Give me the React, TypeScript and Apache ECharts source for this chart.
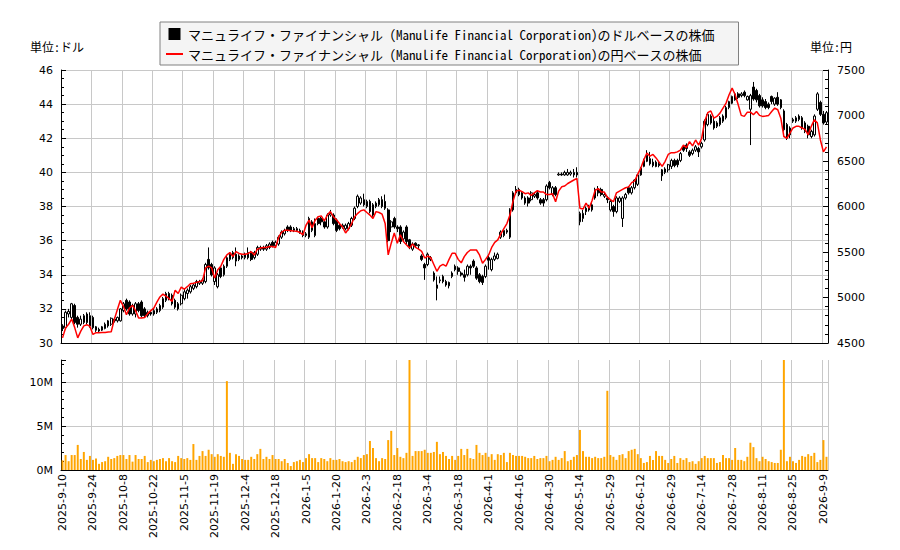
import React, { useEffect, useRef } from 'react';
import * as echarts from 'echarts';

// 取引日 (US market) : 2025-9-10 .. 2026-9-10
const firstDay = '2025-09-10';
const lastDay = '2026-09-10';
const marketHolidays = [
  '2025-11-27', '2025-12-25', '2026-01-01', '2026-01-19', '2026-02-16',
  '2026-04-03', '2026-05-25', '2026-06-19', '2026-07-03', '2026-09-07',
];

const dollarName = 'マニュライフ・ファイナンシャル (Manulife Financial Corporation)のドルベースの株価';
const yenName = 'マニュライフ・ファイナンシャル (Manulife Financial Corporation)の円ベースの株価';

// [open, close, low, high] (USD)
const candles: number[][] = [
  [31.0, 30.85, 30.7, 31.1], [30.9, 31.8, 30.8, 31.9], [31.7, 31.85, 31.5, 32.0], [31.5, 32.3, 31.3, 32.35], [32.2, 31.2, 31.1, 32.3],
  [31.5, 31.1, 30.9, 31.6], [31.1, 31.4, 31.0, 31.6], [31.2, 31.6, 31.1, 31.7], [31.7, 31.2, 31.1, 31.8], [31.6, 31.0, 30.9, 31.8],
  [31.5, 30.9, 30.8, 31.6], [30.95, 30.75, 30.65, 31.0], [30.8, 30.7, 30.6, 30.9], [30.75, 30.95, 30.7, 31.0], [30.85, 31.1, 30.8, 31.2],
  [31.0, 31.3, 30.9, 31.35], [31.1, 31.45, 31.0, 31.5], [31.4, 31.3, 31.2, 31.5], [31.3, 31.5, 31.2, 31.55], [31.3, 32.0, 31.25, 32.05],
  [31.9, 32.3, 31.8, 32.4], [32.5, 32.0, 31.9, 32.6], [32.4, 31.7, 31.6, 32.5], [31.7, 32.2, 31.6, 32.3], [31.7, 32.3, 31.5, 32.4],
  [32.3, 31.9, 31.8, 32.4], [32.4, 31.6, 31.5, 32.5], [32.0, 31.6, 31.5, 32.1], [31.6, 31.8, 31.5, 31.9], [31.8, 31.7, 31.6, 31.9],
  [31.7, 31.9, 31.6, 32.0], [31.8, 32.0, 31.7, 32.1], [31.9, 32.2, 31.8, 32.3], [32.1, 32.6, 32.0, 32.7], [32.5, 32.9, 32.4, 33.0],
  [32.9, 32.6, 32.5, 33.0], [32.8, 32.3, 32.2, 32.9], [32.5, 32.1, 32.0, 32.6], [32.3, 32.0, 31.9, 32.4], [32.3, 32.8, 32.2, 32.9],
  [32.6, 33.0, 32.5, 33.2], [32.9, 33.1, 32.6, 33.2], [33.0, 33.3, 32.9, 33.4], [33.2, 33.4, 33.1, 33.5], [33.3, 33.6, 33.2, 33.7],
  [33.5, 33.6, 33.4, 33.7], [33.5, 33.7, 33.4, 33.8], [33.6, 34.6, 33.5, 34.7], [34.9, 34.4, 34.3, 35.6], [34.6, 34.0, 33.9, 34.7],
  [33.6, 34.4, 33.4, 34.5], [33.3, 34.0, 33.2, 34.1], [34.4, 33.9, 33.8, 34.5], [34.0, 34.5, 33.9, 34.6], [34.5, 35.0, 34.4, 35.1],
  [34.9, 35.2, 34.8, 35.3], [35.0, 35.3, 34.9, 35.4], [35.2, 34.8, 34.5, 35.6], [34.9, 35.1, 34.8, 35.2], [35.1, 35.0, 34.9, 35.2],
  [35.0, 35.2, 34.9, 35.3], [35.3, 35.0, 34.9, 35.6], [35.3, 34.9, 34.8, 35.4], [35.0, 35.3, 34.9, 35.4], [35.2, 35.6, 35.1, 35.7],
  [35.5, 35.6, 35.4, 35.7], [35.6, 35.5, 35.4, 35.7], [35.5, 35.7, 35.4, 35.8], [35.6, 35.8, 35.5, 35.9], [35.9, 35.7, 35.6, 36.0],
  [35.7, 35.9, 35.6, 36.0], [35.8, 36.2, 35.7, 36.3], [36.2, 36.5, 36.1, 36.6], [36.4, 36.6, 36.3, 36.7], [36.8, 36.6, 36.5, 36.9],
  [36.8, 36.6, 36.5, 36.9], [36.6, 36.7, 36.5, 36.8], [36.7, 36.6, 36.5, 36.8], [36.6, 36.5, 36.4, 36.7], [36.5, 36.3, 36.2, 36.6],
  [36.3, 36.4, 36.2, 36.5], [36.2, 37.3, 36.1, 37.4], [36.6, 37.1, 36.5, 37.2], [36.3, 37.0, 36.2, 37.3], [37.3, 37.0, 36.9, 37.4],
  [37.3, 37.1, 36.9, 37.4], [37.1, 36.8, 36.7, 37.2], [36.8, 37.5, 36.7, 37.6], [37.5, 37.6, 37.4, 37.8], [37.5, 37.0, 36.9, 37.6],
  [37.2, 36.6, 36.5, 37.3], [36.9, 36.7, 36.6, 37.0], [36.8, 36.9, 36.7, 37.0], [36.7, 36.9, 36.6, 37.0], [36.7, 37.0, 36.6, 37.1],
  [36.9, 37.3, 36.8, 37.4], [37.3, 37.9, 37.2, 38.0], [38.0, 38.6, 37.9, 38.7], [38.2, 38.5, 38.1, 38.6], [38.4, 38.1, 38.0, 38.75],
  [38.0, 38.3, 37.9, 38.4], [38.3, 37.7, 37.6, 38.4], [38.1, 37.5, 37.4, 38.2], [38.0, 38.2, 37.9, 38.3], [38.1, 38.4, 38.0, 38.5],
  [38.4, 38.0, 37.9, 38.6], [38.3, 37.9, 37.8, 38.7], [37.8, 36.0, 35.9, 37.9], [36.8, 37.1, 36.5, 37.2], [37.3, 36.8, 36.7, 37.4],
  [36.8, 36.7, 36.5, 36.9], [36.8, 35.95, 35.8, 36.9], [36.1, 36.5, 36.0, 36.6], [36.8, 35.95, 35.8, 36.9], [36.05, 35.66, 35.5, 36.1],
  [35.5, 35.8, 35.4, 35.9], [35.85, 35.7, 35.6, 35.9], [35.7, 35.75, 35.5, 35.8], [35.1, 34.9, 34.8, 35.2], [34.6, 34.4, 33.7, 34.7],
  [34.6, 35.2, 34.5, 35.3], [34.9, 35.0, 34.8, 35.1], [34.1, 33.7, 33.6, 34.2], [33.2, 33.4, 32.5, 33.9], [33.65, 33.7, 33.5, 33.9],
  [33.9, 33.6, 33.5, 34.0], [33.6, 33.4, 33.3, 33.7], [33.55, 33.35, 33.2, 33.6], [33.9, 34.1, 33.8, 34.2], [34.5, 34.3, 34.2, 34.6],
  [34.4, 34.2, 34.0, 34.5], [34.1, 34.0, 33.9, 34.2], [34.0, 33.85, 33.6, 34.3], [34.0, 34.5, 33.9, 34.6], [34.5, 34.4, 34.0, 34.6],
  [34.8, 34.5, 34.4, 34.9], [34.4, 33.8, 33.7, 34.5], [34.0, 33.6, 33.5, 34.1], [33.9, 33.55, 33.4, 34.0], [33.9, 34.5, 33.8, 34.6],
  [35.0, 34.85, 34.3, 35.1], [34.3, 34.9, 34.2, 35.0], [34.9, 35.1, 34.8, 35.3], [34.96, 35.2, 34.9, 35.3], [36.2, 36.5, 36.1, 36.6],
  [36.3, 36.6, 36.2, 36.7], [36.5, 36.6, 36.4, 36.7], [36.2, 37.8, 36.1, 37.9], [37.8, 38.8, 37.7, 38.9], [39.0, 38.8, 38.7, 39.2],
  [39.0, 38.7, 38.6, 39.1], [38.5, 38.8, 38.4, 38.9], [38.5, 38.2, 38.1, 38.6], [38.5, 38.2, 38.0, 38.6], [38.4, 38.8, 38.3, 38.9],
  [38.6, 38.7, 38.5, 38.8], [38.8, 38.5, 38.4, 38.9], [38.4, 38.2, 38.1, 38.5], [38.4, 38.2, 38.0, 38.5], [38.4, 39.2, 38.3, 39.3],
  [39.4, 39.1, 39.0, 39.5], [38.7, 39.1, 38.6, 39.2], [39.1, 38.7, 38.6, 39.2], [39.85, 39.9, 39.8, 40.0], [39.9, 39.85, 39.8, 40.0],
  [39.85, 40.0, 39.8, 40.1], [39.85, 40.0, 39.8, 40.2], [39.9, 40.0, 39.8, 40.1], [39.85, 40.0, 39.7, 40.2], [40.0, 39.85, 39.7, 40.3],
  [37.1, 37.6, 36.9, 37.7], [37.3, 37.6, 37.1, 37.8], [37.9, 37.7, 37.5, 38.0], [38.0, 37.8, 37.7, 38.1], [37.8, 38.1, 37.7, 38.2],
  [38.5, 39.0, 38.4, 39.1], [39.0, 38.8, 38.6, 39.2], [39.0, 38.7, 38.6, 39.1], [38.6, 38.7, 38.5, 38.8], [38.5, 38.4, 38.2, 38.6],
  [37.8, 38.3, 37.7, 38.4], [38.0, 37.7, 37.4, 38.1], [37.7, 38.5, 37.6, 38.6], [38.3, 38.5, 38.2, 38.6], [37.3, 38.5, 36.8, 38.6],
  [38.5, 38.7, 38.4, 38.8], [39.1, 38.8, 38.7, 39.2], [38.8, 39.1, 38.7, 39.2], [39.1, 39.55, 39.0, 39.6], [39.3, 39.85, 39.2, 39.9],
  [39.85, 40.25, 39.8, 40.3], [40.35, 40.7, 40.3, 40.8], [41.0, 40.65, 40.6, 41.3], [40.8, 40.5, 40.4, 41.2], [40.6, 40.4, 40.3, 40.8],
  [40.6, 40.35, 40.3, 40.7], [40.5, 40.4, 40.3, 40.6], [40.15, 39.8, 39.5, 40.2], [40.0, 40.2, 39.9, 40.3], [40.15, 40.45, 40.0, 40.5],
  [40.35, 40.7, 40.2, 40.8], [40.7, 40.4, 40.3, 40.8], [40.7, 40.45, 40.3, 40.8], [40.7, 41.1, 40.6, 41.2], [41.5, 41.3, 41.2, 41.6],
  [41.6, 41.4, 41.2, 41.7], [41.2, 41.0, 40.9, 41.3], [41.1, 41.3, 41.0, 41.4], [41.3, 41.5, 41.2, 41.6], [41.4, 41.2, 40.9, 41.5],
  [41.5, 41.7, 41.4, 41.8], [41.9, 43.0, 41.8, 43.1], [42.8, 43.4, 42.7, 43.5], [43.3, 42.9, 42.8, 43.4], [43.0, 42.6, 42.5, 43.2],
  [42.7, 42.9, 42.6, 43.0], [42.8, 43.2, 42.7, 43.3], [43.0, 43.3, 42.9, 43.4], [43.2, 43.8, 43.1, 43.9], [43.8, 44.15, 43.7, 44.2],
  [44.05, 44.45, 44.0, 44.5], [44.25, 44.6, 44.2, 44.7], [44.6, 44.4, 44.3, 44.7], [44.5, 44.6, 44.4, 44.7], [44.7, 44.5, 44.4, 44.8],
  [44.25, 44.45, 44.2, 44.5], [43.7, 44.5, 41.6, 44.6], [45.0, 44.3, 44.2, 45.3], [44.8, 44.25, 44.1, 44.9], [44.5, 43.9, 43.8, 44.6],
  [44.25, 43.9, 43.8, 44.4], [44.15, 43.8, 43.7, 44.3], [44.0, 43.8, 43.7, 44.1], [44.45, 44.15, 44.0, 44.5], [44.0, 44.35, 43.9, 44.4],
  [44.4, 44.0, 43.9, 44.7], [44.25, 43.8, 43.7, 44.3], [43.6, 42.5, 42.4, 43.7], [42.8, 42.0, 41.9, 42.9], [42.6, 42.2, 42.0, 42.7],
  [43.0, 43.1, 42.9, 43.2], [43.0, 43.2, 42.9, 43.3], [43.1, 43.3, 43.0, 43.4], [43.2, 42.6, 42.5, 43.3], [42.9, 42.4, 42.3, 43.0],
  [42.7, 42.2, 42.0, 42.8], [42.1, 42.4, 42.0, 42.5], [42.2, 43.3, 42.1, 43.4], [43.7, 44.6, 43.6, 44.7], [44.1, 43.4, 43.3, 44.2],
  [43.4, 42.9, 42.8, 43.6], [42.95, 43.5, 42.8, 43.6],
];

// 円ベース終値
const yenClose: number[] = [
  4556, 4665, 4706, 4763, 4669, 4556, 4631, 4688, 4701, 4682,
  4594, 4613, 4613, 4616, 4616, 4620, 4624, 4757, 4866, 4969,
  4903, 4811, 4884, 4913, 4856, 4774, 4774, 4781, 4823, 4856,
  4884, 4950, 5006, 5038, 5016, 4988, 4958, 5081, 5044, 5115,
  5091, 5119, 5151, 5156, 5166, 5175, 5184, 5325, 5344, 5325,
  5213, 5306, 5344, 5419, 5469, 5494, 5451, 5505, 5484, 5475,
  5475, 5484, 5503, 5466, 5531, 5543, 5550, 5550, 5561, 5561,
  5550, 5663, 5719, 5738, 5738, 5734, 5730, 5728, 5715, 5689,
  5794, 5850, 5766, 5850, 5888, 5897, 5841, 5906, 5944, 5888,
  5854, 5813, 5775, 5709, 5756, 5813, 5888, 5925, 5953, 5963,
  5934, 5906, 5869, 5944, 5934, 5916, 5813, 5469, 5597, 5708,
  5597, 5689, 5616, 5580, 5543, 5588, 5550, 5531, 5507, 5434,
  5456, 5438, 5363, 5288, 5344, 5363, 5344, 5419, 5486, 5486,
  5419, 5381, 5449, 5494, 5522, 5522, 5522, 5468, 5376, 5419,
  5468, 5550, 5606, 5633, 5700, 5756, 5813, 5906, 6056, 6169,
  6178, 6163, 6141, 6150, 6122, 6150, 6174, 6159, 6159, 6131,
  6131, 6141, 6053, 6169, 6216, 6225, 6253, 6272, 6291, 6309,
  5981, 5972, 6038, 5981, 6066, 6178, 6197, 6159, 6159, 6103,
  6075, 6053, 6150, 6169, 6188, 6206, 6216, 6263, 6281, 6356,
  6422, 6514, 6587, 6553, 6572, 6534, 6488, 6441, 6497, 6572,
  6591, 6591, 6600, 6619, 6675, 6647, 6713, 6666, 6731, 6675,
  6750, 6938, 7031, 7050, 6971, 6990, 7026, 7082, 7136, 7228,
  7301, 7228, 7118, 7001, 6990, 7037, 7037, 7009, 7044, 7001,
  6990, 6994, 7001, 7044, 7082, 7063, 6971, 6769, 6750, 6806,
  6863, 6881, 6881, 6863, 6844, 6788, 6881, 6953, 6919, 6731,
  6600, 6656,
];

// 出来高 (百万株)
const volumeM: number[] = [
  1.1, 1.7, 1.0, 1.7, 1.7, 2.85, 1.25, 2.05, 1.15, 1.6,
  1.15, 1.3, 0.7, 0.9, 1.0, 1.5, 1.25, 1.35, 1.6, 1.7,
  1.7, 1.25, 1.7, 0.95, 1.7, 1.25, 1.25, 1.6, 0.9, 1.15,
  1.0, 1.15, 1.25, 1.35, 1.0, 1.35, 1.0, 0.9, 1.6, 1.35,
  1.25, 1.35, 1.15, 2.95, 1.15, 1.6, 2.15, 1.6, 2.3, 1.8,
  1.5, 1.8, 1.6, 1.5, 10.1, 1.95, 0.7, 1.8, 1.6, 1.25,
  1.15, 1.15, 1.5, 1.25, 1.8, 2.4, 1.25, 1.5, 1.25, 1.7,
  1.25, 1.25, 1.0, 1.25, 0.8, 0.45, 0.9, 1.0, 1.15, 0.9,
  1.35, 1.8, 1.35, 1.35, 0.9, 1.35, 1.25, 1.0, 1.35, 1.15,
  1.15, 1.25, 1.0, 0.9, 1.0, 0.9, 1.15, 1.5, 1.35, 1.7,
  1.8, 3.3, 2.5, 1.35, 1.0, 1.35, 1.25, 3.4, 4.45, 1.7,
  2.5, 1.5, 1.35, 1.95, 14, 1.6, 2.15, 2.15, 2.15, 2.3,
  1.95, 1.95, 2.05, 3.2, 1.8, 2.05, 1.6, 1.25, 1.6, 1.15,
  1.6, 2.4, 1.7, 2.4, 1.35, 1.25, 2.85, 1.95, 1.7, 1.95,
  1.5, 1.8, 1.15, 1.8, 1.7, 1.95, 0.9, 1.95, 1.7, 1.6,
  1.6, 1.6, 1.5, 1.35, 1.35, 1.6, 1.25, 1.35, 1.35, 1.6,
  1.0, 1.15, 1.5, 1.15, 1.35, 2.15, 1.0, 1.15, 1.5, 1.7,
  4.55, 2.15, 1.5, 1.5, 1.35, 1.5, 1.35, 1.35, 1.5, 9.0,
  1.7, 1.5, 1.15, 1.7, 1.8, 1.35, 2.15, 2.3, 2.4, 1.8,
  1.35, 0.8, 0.9, 1.6, 1.15, 2.15, 1.6, 1.6, 1.15, 0.8,
  1.25, 1.6, 0.8, 1.35, 1.15, 1.35, 0.9, 1.0, 0.7, 1.0,
  1.35, 1.6, 1.35, 1.35, 1.35, 0.8, 0.9, 1.7, 1.35, 1.35,
  1.15, 2.5, 1.15, 1.15, 1.0, 1.5, 3.1, 2.6, 1.35, 1.0,
  1.5, 1.25, 1.0, 0.9, 0.8, 0.8, 2.3, 16, 1.0, 1.5,
  1.0, 0.8, 1.15, 1.6, 1.5, 1.8, 1.6, 1.95, 0.9, 1.15,
  3.4, 1.5,
];

function tradingDays(): string[] {
  const out: string[] = [];
  const d = new Date(firstDay + 'T00:00:00Z');
  const end = new Date(lastDay + 'T00:00:00Z');
  while (d <= end) {
    const iso = d.toISOString().slice(0, 10);
    const wd = d.getUTCDay();
    if (wd !== 0 && wd !== 6 && !marketHolidays.includes(iso)) {
      out.push(`${d.getUTCFullYear()}-${d.getUTCMonth() + 1}-${d.getUTCDate()}`);
    }
    d.setUTCDate(d.getUTCDate() + 1);
  }
  return out;
}

const dates = tradingDays();

const jpFont = "'Noto Sans Mono CJK JP', 'Noto Sans CJK JP', sans-serif";
const gridColor = '#c8c8c8';

const axisLineBlack = { show: true, lineStyle: { color: '#000', width: 1 } };

const option = {
  animation: false,
  backgroundColor: '#fff',
  textStyle: { fontFamily: 'DejaVu Sans' },
  legend: {
    orient: 'vertical',
    left: 160,
    top: 22,
    padding: [5, 24, 4, 6],
    itemGap: 6,
    itemWidth: 17,
    itemHeight: 10,
    backgroundColor: '#f4f4f4',
    borderColor: '#808080',
    borderWidth: 1,
    borderRadius: 0,
    textStyle: { fontFamily: jpFont, fontSize: 13, color: '#000', lineHeight: 14 },
    data: [
      { name: dollarName, icon: 'path://M0 0H10V10H0Z', itemStyle: { color: '#000' } },
      { name: yenName, icon: 'path://M0 0H17V2H0Z', itemStyle: { color: '#f00' } },
    ],
  },
  graphic: [
    { type: 'text', left: 30, top: 40, style: { text: '単位:ドル', font: `12px ${jpFont}`, fill: '#000' } },
    { type: 'text', left: 810, top: 40, style: { text: '単位:円', font: `12px ${jpFont}`, fill: '#000' } },
  ],
  grid: [
    { left: 61, right: 72, top: 70, height: 273 },
    { left: 61, right: 72, top: 360, height: 110 },
  ],
  xAxis: [
    {
      type: 'category',
      gridIndex: 0,
      data: dates,
      axisLine: axisLineBlack,
      axisTick: { inside: true, interval: 9, alignWithLabel: true, length: 5, lineStyle: { color: '#000' } },
      axisLabel: { show: false, interval: 9 },
      splitLine: { show: true, interval: 9, lineStyle: { color: gridColor, width: 1 } },
    },
    {
      type: 'category',
      gridIndex: 1,
      data: dates,
      axisLine: axisLineBlack,
      axisTick: { inside: true, interval: 9, alignWithLabel: true, length: 5, lineStyle: { color: '#000' } },
      axisLabel: { interval: 9, rotate: 90, fontSize: 11, color: '#000', margin: 4 },
      splitLine: { show: true, interval: 9, lineStyle: { color: gridColor, width: 1 } },
    },
  ],
  yAxis: [
    {
      type: 'value',
      gridIndex: 0,
      position: 'left',
      min: 30,
      max: 46,
      interval: 2,
      axisLine: axisLineBlack,
      axisTick: { show: true, inside: true, length: 5, lineStyle: { color: '#000' } },
      minorTick: { show: true, splitNumber: 4, length: 3, lineStyle: { color: '#000' } },
      axisLabel: { fontSize: 11, color: '#000', margin: 8 },
      splitLine: { show: true, lineStyle: { color: gridColor, width: 1 } },
    },
    {
      type: 'value',
      gridIndex: 0,
      position: 'right',
      min: 4500,
      max: 7500,
      interval: 500,
      axisLine: axisLineBlack,
      axisTick: { show: true, inside: true, length: 5, lineStyle: { color: '#000' } },
      minorTick: { show: true, splitNumber: 5, length: 3, lineStyle: { color: '#000' } },
      axisLabel: { fontSize: 11, color: '#000', margin: 9, formatter: (v: number) => String(v) },
      splitLine: { show: false },
    },
    {
      type: 'value',
      gridIndex: 1,
      position: 'left',
      min: 0,
      max: 12.5,
      interval: 5,
      axisLine: axisLineBlack,
      axisTick: { show: true, inside: true, length: 5, lineStyle: { color: '#000' } },
      minorTick: { show: true, splitNumber: 5, length: 3, lineStyle: { color: '#000' } },
      axisLabel: { fontSize: 11, color: '#000', margin: 8, formatter: '{value}M', showMaxLabel: false },
      splitLine: { show: true, showMaxLine: false, lineStyle: { color: gridColor, width: 1 } },
    },
  ],
  series: [
    {
      name: dollarName,
      type: 'candlestick',
      xAxisIndex: 0,
      yAxisIndex: 0,
      data: candles,
      barWidth: '70%',
      itemStyle: {
        color: '#fff',
        color0: '#000',
        borderColor: '#000',
        borderColor0: '#000',
        borderWidth: 1,
      },
    },
    {
      name: yenName,
      type: 'line',
      xAxisIndex: 0,
      yAxisIndex: 1,
      data: yenClose,
      symbol: 'none',
      lineStyle: { color: '#f00', width: 1.5 },
      itemStyle: { color: '#f00' },
      z: 5,
    },
    {
      name: 'volume',
      type: 'bar',
      xAxisIndex: 1,
      yAxisIndex: 2,
      data: volumeM,
      barWidth: '65%',
      clip: true,
      itemStyle: { color: '#ffa500' },
    },
  ],
};

export default function App() {
  const chartRef = useRef<HTMLDivElement>(null);

  useEffect(() => {
    if (!chartRef.current) return;
    const chart = echarts.init(chartRef.current, undefined, { renderer: 'svg' });
    chart.setOption(option as any);
    return () => {
      chart.dispose();
    };
  }, []);

  return (
    <div
      ref={chartRef}
      style={{ position: 'fixed', left: 0, top: 0, width: 900, height: 550, background: '#fff' }}
    />
  );
}
